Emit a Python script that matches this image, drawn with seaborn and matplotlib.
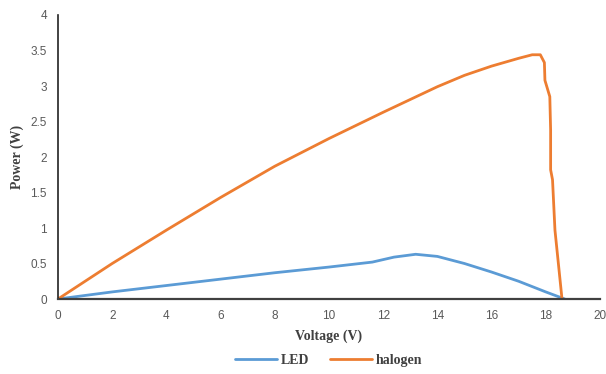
import numpy as np
import pandas as pd
import seaborn as sns
import matplotlib.pyplot as plt

# Values
led_v = [0, 2, 4, 6, 8, 10, 11.6, 12.4, 13.2, 14, 15, 16, 17, 18, 18.7]
led_p = [0, 0.1, 0.19, 0.28, 0.37, 0.45, 0.52, 0.59, 0.63, 0.6, 0.5, 0.38, 0.25, 0.1, 0]

halo_v = [0, 2, 4, 6, 8, 10, 12, 14, 15, 16, 17, 17.5, 17.8, 17.95, 17.97, 18.15, 18.18, 18.18, 18.25, 18.34, 18.6]
halo_p = [0, 0.5, 0.97, 1.43, 1.87, 2.26, 2.63, 2.99, 3.15, 3.28, 3.39, 3.44, 3.44, 3.33, 3.08, 2.85, 2.38, 1.82, 1.68, 0.97, 0]

df = pd.concat([
    pd.DataFrame({"Voltage": led_v, "Power": led_p, "series": "LED"}),
    pd.DataFrame({"Voltage": halo_v, "Power": halo_p, "series": "halogen"}),
])

sns.set_style("white")
fig = plt.figure(figsize=(6.06, 3.74), dpi=100)
ax = fig.add_axes([0.0957, 0.2005, 0.8943, 0.7594])

palette = {"LED": "#5B9BD5", "halogen": "#ED7D31"}
sns.lineplot(data=df, x="Voltage", y="Power", hue="series", units="series", estimator=None,
             sort=False, palette=palette, linewidth=2, ax=ax)

ax.set_xlim(0, 20)
ax.set_ylim(0, 4)
ax.set_xticks(range(0, 21, 2))
ax.set_yticks(np.arange(0, 4.01, 0.5))
ax.set_yticklabels([f"{v:g}" for v in np.arange(0, 4.01, 0.5)])
ax.tick_params(length=0, labelsize=8.5, labelcolor="#595959", pad=8)
for lab in ax.get_xticklabels() + ax.get_yticklabels():
    lab.set_family("Liberation Sans")

sns.despine(ax=ax)
ax.spines["left"].set_color("#222222")
ax.spines["bottom"].set_color("#404040")
ax.spines["bottom"].set_linewidth(1.6)
ax.spines["left"].set_linewidth(1.2)

lab_font = dict(family="Liberation Serif", weight="bold", size=10, color="#404040")
ax.set_xlabel("Voltage (V)", labelpad=5, **lab_font)
ax.set_ylabel("Power (W)", **lab_font)
ax.yaxis.set_label_coords(-0.063, 0.5)

ax.legend(loc="upper center", bbox_to_anchor=(0.5, -0.15), ncol=2, frameon=False,
          prop=dict(family="Liberation Serif", weight="bold", size=10), handlelength=3,
          columnspacing=1.5, handletextpad=0.3, labelcolor="#404040")

fig.savefig("out.png", dpi=100)
